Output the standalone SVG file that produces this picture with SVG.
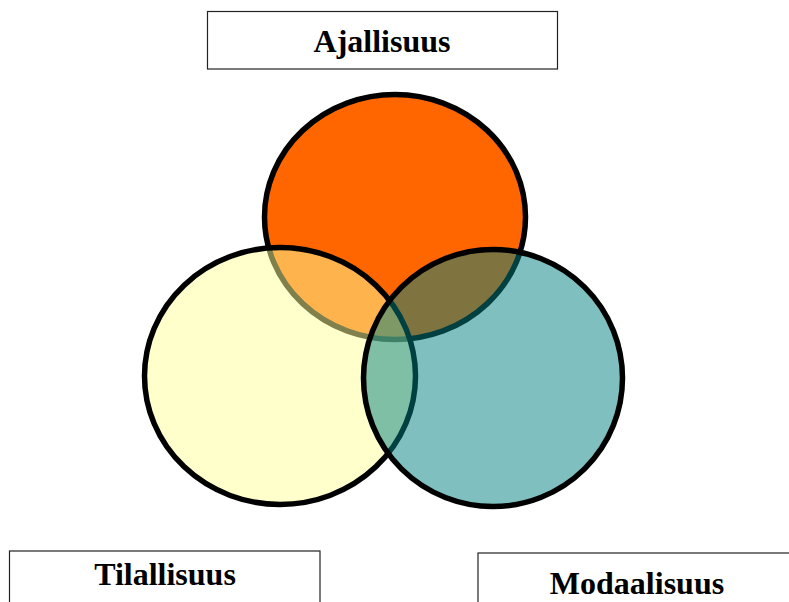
<svg xmlns="http://www.w3.org/2000/svg" width="789" height="602" viewBox="0 0 789 602">
<style>
.box{fill:#fff;stroke:#222;stroke-width:1.2}
.lbl{font-family:"Liberation Serif","Times New Roman",serif;font-weight:bold;font-size:32px;fill:#000;text-anchor:middle}
.c{stroke:#000;stroke-width:5.5}
</style>
<rect width="789" height="602" fill="#fff"/>
<g id="venn">
<ellipse id="ajallisuus-circle" class="c" cx="395" cy="217" rx="130.5" ry="122.5" fill="#FF6600"/>
<ellipse id="tilallisuus-circle" class="c" cx="280" cy="376" rx="135.5" ry="128.5" fill="#FFFF99" fill-opacity="0.5"/>
<ellipse id="modaalisuus-circle" class="c" cx="493" cy="378" rx="129.5" ry="128.5" fill="#008080" fill-opacity="0.5"/>
</g>
<g id="ajallisuus">
<rect class="box" x="207.5" y="11.5" width="350" height="57.5"/>
<text class="lbl" x="382" y="52">Ajallisuus</text>
</g>
<g id="tilallisuus">
<rect class="box" x="9.5" y="551" width="310.5" height="60"/>
<text class="lbl" x="165" y="585">Tilallisuus</text>
</g>
<g id="modaalisuus">
<rect class="box" x="478" y="553" width="320" height="60"/>
<text class="lbl" x="637" y="594">Modaalisuus</text>
</g>
<g id="connectors"></g>
</svg>
